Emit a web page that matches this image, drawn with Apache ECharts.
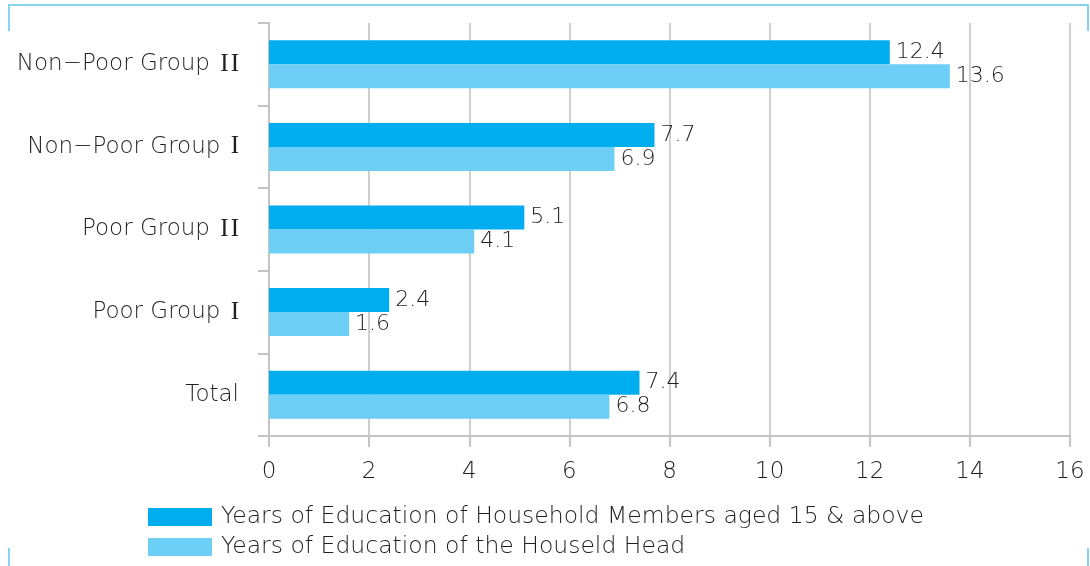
<!DOCTYPE html>
<html>
<head>
<meta charset="utf-8">
<script src="https://cdn.jsdelivr.net/npm/echarts@6/dist/echarts.min.js"></script>
<style>
  html, body { margin: 0; padding: 0; background: #fff; }
  #chart { width: 1090px; height: 566px; }
</style>
</head>
<body>
<div id="chart"></div>
<script>
// Groups, listed top to bottom
const categories = ['Non\u2212Poor Group II', 'Non\u2212Poor Group I', 'Poor Group II', 'Poor Group I', 'Total'];
const membersYears = [12.4, 7.7, 5.1, 2.4, 7.4];
const headYears = [13.6, 6.9, 4.1, 1.6, 6.8];
const seriesNames = ['Years of Education of Household Members aged 15 & above', 'Years of Education of the Houseld Head'];
const xTicks = { min: 0, max: 16, interval: 2 };

const FONT = 'DejaVu Sans';
const WEIGHT = 300;
const TEXT = '#1f1f1f';
const frameColor = '#86d3f2';
const colors = ['#00aeef', '#6dcff6'];

const chart = echarts.init(document.getElementById('chart'));

const barLabel = {
  show: true,
  position: 'right',
  distance: 6,
  color: TEXT,
  fontFamily: FONT,
  fontWeight: WEIGHT,
  fontSize: 22
};

// one legend row per series, stacked
const legendRow = (name, top) => ({
  left: 148,
  top: top,
  padding: 0,
  itemWidth: 64,
  itemHeight: 18,
  itemGap: 0,
  icon: 'rect',
  data: [name],
  selectedMode: false,
  textStyle: { color: TEXT, fontFamily: FONT, fontWeight: WEIGHT, fontSize: 23.5, padding: [0, 0, 0, 4] }
});

// group names: the roman numeral is set in a serif face
function categoryLabel(value) {
  const m = value.match(/^(.*?)(I+)$/);
  return m ? m[1] + '{num|' + m[2].split('').join('\u200a') + '}' : value;
}

chart.setOption({
  animation: false,
  grid: { left: 269, right: 20, top: 23, bottom: 130, containLabel: false },
  legend: [legendRow(seriesNames[0], 505), legendRow(seriesNames[1], 535)],
  xAxis: {
    type: 'value',
    min: xTicks.min,
    max: xTicks.max,
    interval: xTicks.interval,
    axisLine: { show: true, lineStyle: { color: '#c4c4c4', width: 2 } },
    axisTick: { show: true, length: 11, lineStyle: { color: '#c4c4c4', width: 2 } },
    splitLine: { show: true, lineStyle: { color: '#cfcfcf', width: 2 } },
    axisLabel: { color: TEXT, fontFamily: FONT, fontWeight: WEIGHT, fontSize: 23, margin: 25 }
  },
  yAxis: {
    type: 'category',
    inverse: true,
    data: categories,
    axisLine: { show: true, lineStyle: { color: '#c4c4c4', width: 2 } },
    axisTick: { show: true, length: 11, lineStyle: { color: '#c4c4c4', width: 2 } },
    axisLabel: {
      color: TEXT, fontFamily: FONT, fontWeight: WEIGHT, fontSize: 23, margin: 30,
      formatter: categoryLabel,
      rich: {
        num: { color: TEXT, fontFamily: 'Liberation Serif', fontWeight: 'normal', fontSize: 25, padding: [0, 0, 0, 3] }
      }
    }
  },
  series: [
    {
      name: seriesNames[0],
      type: 'bar',
      data: membersYears,
      barWidth: 24,
      barGap: '0%',
      itemStyle: { color: colors[0] },
      label: barLabel
    },
    {
      name: seriesNames[1],
      type: 'bar',
      data: headYears,
      barWidth: 24,
      barGap: '0%',
      itemStyle: { color: colors[1] },
      label: barLabel
    }
  ],
  graphic: [
    { type: 'polyline', shape: { points: [[9, 31], [9, 5], [1088, 5], [1088, 31]] }, style: { stroke: frameColor, lineWidth: 2, fill: null } },
    { type: 'line', shape: { x1: 9, y1: 548, x2: 9, y2: 566 }, style: { stroke: frameColor, lineWidth: 2 } },
    { type: 'line', shape: { x1: 1088, y1: 548, x2: 1088, y2: 566 }, style: { stroke: frameColor, lineWidth: 2 } }
  ]
});
</script>
</body>
</html>
